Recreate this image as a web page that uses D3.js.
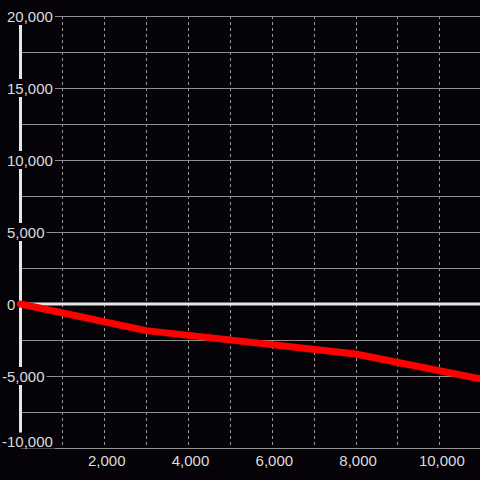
<!DOCTYPE html>
<html><head><meta charset="utf-8">
<script src="https://cdn.jsdelivr.net/npm/d3@7"></script>
<style>html,body{margin:0;padding:0;background:#050308;}svg{display:block;}</style>
</head><body>
<svg id="c" width="480" height="480"></svg>
<script>
// data
const xValues = [0, 3000, 8000, 10970];
const yValues = [0, -1850, -3470, -5190];
const xTicks = [2000, 4000, 6000, 8000, 10000];
const xGrid = [1000, 2000, 3000, 4000, 5000, 6000, 7000, 8000, 9000, 10000];
const yTicks = [20000, 15000, 10000, 5000, 0, -5000, -10000];
const yGrid = [20000, 17500, 15000, 12500, 10000, 7500, 5000, 2500, 0, -2500, -5000, -7500, -10000];

const W = 480, H = 480;
const svg = d3.select("#c");
svg.append("rect").attr("width", W).attr("height", H).attr("fill", "#050308");

const x = d3.scaleLinear().domain([0, 10970]).range([20.5, 480]);
const y = d3.scaleLinear().domain([-10000, 20000]).range([448, 16]);
const fmt = d3.format(",");
const font = "Liberation Sans, Arial, sans-serif";

// vertical dashed grid
svg.append("g").selectAll("line").data(xGrid).join("line")
  .attr("x1", d => Math.round(x(d)) + 0.5).attr("x2", d => Math.round(x(d)) + 0.5)
  .attr("y1", y(20000)).attr("y2", y(-10000))
  .attr("stroke", "#9a9a9a").attr("stroke-width", 1).attr("stroke-dasharray", "3,3");

// horizontal grid
svg.append("g").selectAll("line").data(yGrid.filter(d => d !== 0)).join("line")
  .attr("x1", x(0)).attr("x2", W)
  .attr("y1", d => Math.round(y(d)) + 0.5).attr("y2", d => Math.round(y(d)) + 0.5)
  .attr("stroke", "#8c8f8c").attr("stroke-width", 1);

// zero line
svg.append("line").attr("x1", x(0)).attr("x2", W).attr("y1", y(0)).attr("y2", y(0))
  .attr("stroke", "#e6e6e6").attr("stroke-width", 3);

// y axis line
svg.append("line").attr("x1", x(0)).attr("x2", x(0)).attr("y1", y(20000)).attr("y2", y(-10000))
  .attr("stroke", "#e6e6e6").attr("stroke-width", 3);

// y labels with background (bottom label nudged up to stay inside plot)
const ylPos = d => Math.min(y(d), y(-10000) - 6.5);
const yl = svg.append("g").selectAll("g").data(yTicks).join("g");
yl.append("text")
  .attr("x", d => d < 0 ? 2 : 7)
  .attr("y", d => ylPos(d) + 5.5)
  .attr("font-family", font).attr("font-size", 15).attr("fill", "#dcdcdc")
  .text(d => fmt(d).replace("\u2212", "-"));
yl.each(function(d) {
  const g = d3.select(this);
  const bb = g.select("text").node().getBBox();
  const c = ylPos(d);
  g.insert("rect", "text")
    .attr("x", bb.x - 2).attr("y", c - 9)
    .attr("width", bb.width + 4).attr("height", d === -10000 ? 16 : 18)
    .attr("fill", "#050308");
});

// x labels
svg.append("g").selectAll("text").data(xTicks).join("text")
  .attr("x", d => x(d) + 2.5).attr("y", 466)
  .attr("text-anchor", "middle")
  .attr("font-family", font).attr("font-size", 15).attr("fill", "#dcdcdc")
  .text(d => fmt(d));

// series line
const line = d3.line().x((d, i) => x(xValues[i])).y(d => y(d));
svg.append("path").datum(yValues)
  .attr("d", line)
  .attr("fill", "none").attr("stroke", "#ff0000").attr("stroke-width", 7)
  .attr("stroke-linecap", "round").attr("stroke-linejoin", "round");
</script>
</body></html>
